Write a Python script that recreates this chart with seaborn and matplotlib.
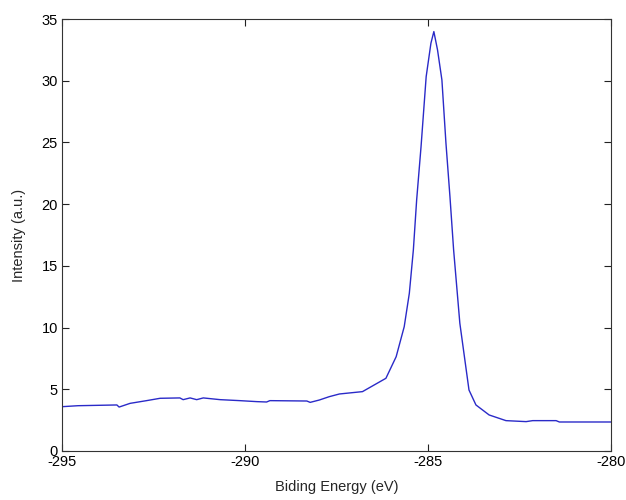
import matplotlib
matplotlib.use("Agg")
import matplotlib.pyplot as plt
import seaborn as sns
import pandas as pd

energy = [-295.0, -294.56, -293.5, -293.44, -293.14, -292.69, -292.32, -291.78, -291.69,
          -291.5, -291.32, -291.14, -290.68, -290.14, -289.68, -289.41, -289.32, -288.31,
          -288.22, -287.97, -287.70, -287.42, -286.79, -286.15, -285.87, -285.65, -285.51,
          -285.40, -285.31, -285.19, -285.05, -284.92, -284.84, -284.74, -284.62, -284.51,
          -284.40, -284.30, -284.13, -283.98, -283.88, -283.69, -283.33, -282.87, -282.32,
          -282.14, -281.5, -281.41, -280.0]
intensity = [3.59, 3.67, 3.73, 3.56, 3.86, 4.08, 4.27, 4.30, 4.16,
             4.30, 4.16, 4.30, 4.16, 4.08, 4.00, 3.97, 4.08, 4.05,
             3.94, 4.13, 4.40, 4.62, 4.81, 5.89, 7.64, 10.07, 12.78,
             16.29, 20.34, 24.66, 30.33, 33.04, 33.98, 32.5, 30.06, 24.96,
             20.6, 16.29, 10.35, 7.1, 4.94, 3.73, 2.92, 2.46, 2.38,
             2.46, 2.46, 2.35, 2.35]
xticks = [-295, -290, -285, -280]
yticks = [0, 5, 10, 15, 20, 25, 30, 35]

df = pd.DataFrame({"Biding Energy (eV)": energy, "Intensity (a.u.)": intensity})

sns.set_theme(style="ticks")
plt.rcParams["font.family"] = ["Liberation Sans", "DejaVu Sans"]

fig = plt.figure(figsize=(6.26, 5.0), dpi=100)
ax = fig.add_axes([62/626, 1 - 451/500, (611-62)/626, (451-19)/500])
sns.lineplot(data=df, x="Biding Energy (eV)", y="Intensity (a.u.)", ax=ax,
             color="#2a2ac8", linewidth=1.0, sort=False)
ax.set_xlim(-295, -280)
ax.set_ylim(0, 35)
ax.set_xticks(xticks)
ax.set_yticks(yticks)
ax.set_xticklabels([str(t) for t in xticks])
ax.set_yticklabels([str(t) for t in yticks])
ax.tick_params(direction="in", length=5, width=0.8, top=True, right=True,
               labelsize=10.5, colors="#222222", labelcolor="black", pad=3)
for s in ax.spines.values():
    s.set_visible(True)
    s.set_linewidth(0.8)
    s.set_color("#333333")
ax.set_xlabel("Biding Energy (eV)", fontsize=10.5, labelpad=8)
ax.set_ylabel("Intensity (a.u.)", fontsize=10.5, labelpad=11)
fig.savefig("out.png", dpi=100)
